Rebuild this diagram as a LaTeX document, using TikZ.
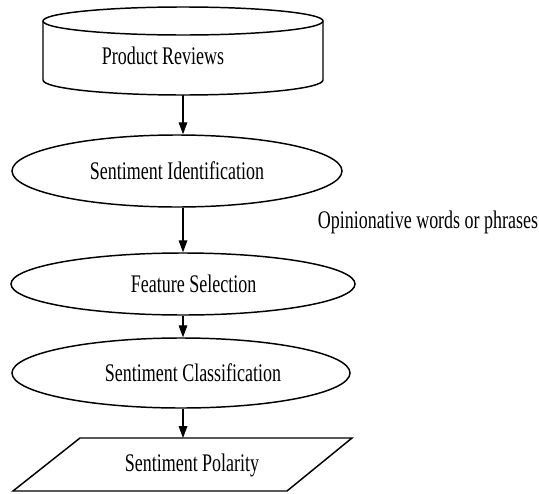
\documentclass[tikz,border=0pt]{standalone}
\usepackage{fontspec}
\setmainfont{Liberation Serif}[FakeStretch=0.71]
\usetikzlibrary{shapes.geometric,arrows.meta}

\begin{document}
\begin{tikzpicture}[x=0.75pt,y=-0.75pt,line width=1.1pt,
                    >={Triangle[length=9pt,width=6.5pt]},
                    font=\fontsize{19}{22}\selectfont,
                    stage/.style={ellipse,draw,inner sep=0pt},
                    flow/.style={->,line width=0.9pt}]
                            \useasboundingbox (0,0) rectangle (539,493);
                            % database of reviews
                            \draw (43,21) -- (43,80) arc[start angle=180,end angle=0,x radius=140,y radius=15] -- (323,21);
                            \draw (183,21) ellipse[x radius=140,y radius=14];
                            \node (reviews) at (163,56) {Product Reviews};
                            \coordinate (revbot) at (183,95);
                            % stages
                            \node[stage,minimum width=247.5pt,minimum height=54pt] (ident) at (177,171) {Sentiment Identification};
                            \node[stage,minimum width=258pt,minimum height=46.5pt] (feat) at (183,284) {\hspace*{16pt}Feature Selection};
                            \node[stage,minimum width=253.5pt,minimum height=52.5pt] (class) at (181,373) {\hspace*{18pt}Sentiment Classification};
                            % output
                            \draw (80,438) -- (352,438) -- (287,491) -- (13,491) -- cycle;
                            \node (polarity) at (192,465) {Sentiment Polarity};
                            \coordinate (poltop) at (183,438);
                            \node (opin) at (428,222) {Opinionative words or phrases};
                            % arrows
                            \draw[flow] (revbot) -- (revbot |- ident.north);
                            \draw[flow] (revbot |- ident.south) -- (revbot |- feat.north);
                            \draw[flow] (revbot |- feat.south) -- (revbot |- class.north);
                            \draw[flow] (revbot |- class.south) -- (poltop);
                        \end{tikzpicture}
\end{document}
